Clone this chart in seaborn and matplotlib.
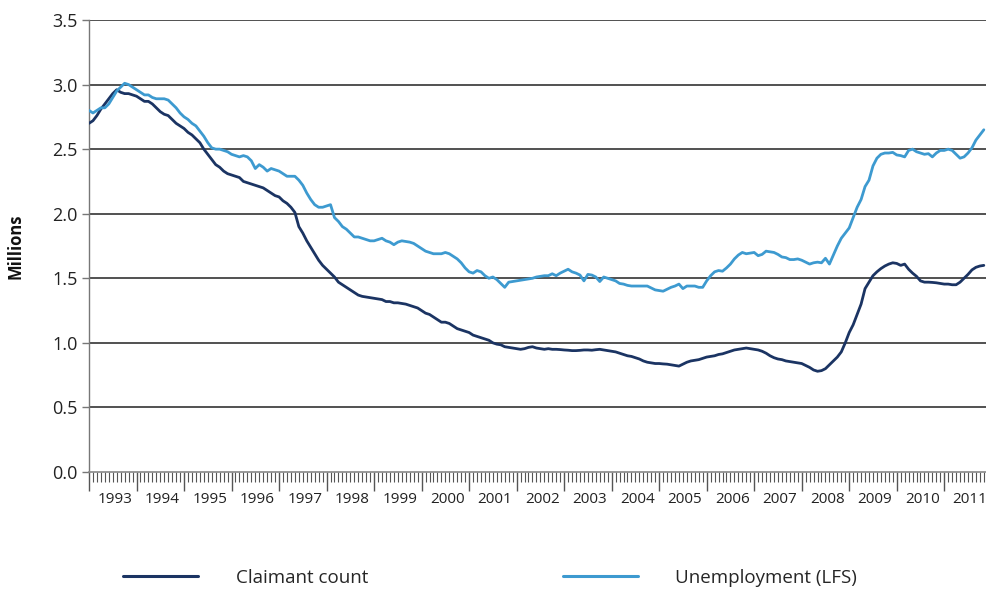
import numpy as np
import pandas as pd
import seaborn as sns
from matplotlib import pyplot as plt
from matplotlib.ticker import MultipleLocator, FixedLocator
from matplotlib.lines import Line2D

# monthly values, Jan 1993 - Nov 2011, millions
claimant = [
    2.70, 2.72, 2.76, 2.81, 2.85, 2.89, 2.93, 2.96, 2.94, 2.93, 2.93, 2.92,
    2.91, 2.89, 2.87, 2.87, 2.85, 2.82, 2.79, 2.77, 2.76, 2.73, 2.70, 2.68,
    2.66, 2.63, 2.61, 2.58, 2.55, 2.50, 2.46, 2.42, 2.38, 2.36, 2.33, 2.31,
    2.30, 2.29, 2.28, 2.25, 2.24, 2.23, 2.22, 2.21, 2.20, 2.18, 2.16, 2.14,
    2.13, 2.10, 2.08, 2.05, 2.01, 1.90, 1.85, 1.79, 1.74, 1.69, 1.64, 1.60,
    1.57, 1.54, 1.51, 1.47, 1.45, 1.43, 1.41, 1.39, 1.37, 1.36, 1.355, 1.35,
    1.345, 1.34, 1.335, 1.32, 1.32, 1.31, 1.31, 1.305, 1.30, 1.29, 1.28, 1.27,
    1.25, 1.23, 1.22, 1.20, 1.18, 1.16, 1.16, 1.15, 1.13, 1.11, 1.10, 1.09,
    1.08, 1.06, 1.05, 1.04, 1.03, 1.02, 1.00, 0.99, 0.985, 0.97, 0.965, 0.96,
    0.955, 0.95, 0.955, 0.965, 0.97, 0.96, 0.955, 0.95, 0.955, 0.95, 0.95, 0.948,
    0.945, 0.943, 0.94, 0.94, 0.942, 0.945, 0.945, 0.943, 0.947, 0.95, 0.945, 0.94,
    0.935, 0.93, 0.92, 0.91, 0.90, 0.895, 0.885, 0.875, 0.86, 0.85, 0.845, 0.84,
    0.84, 0.837, 0.835, 0.83, 0.825, 0.82, 0.835, 0.85, 0.86, 0.865, 0.87, 0.88,
    0.89, 0.895, 0.90, 0.91, 0.915, 0.925, 0.935, 0.945, 0.95, 0.955, 0.96, 0.955,
    0.95, 0.945, 0.935, 0.92, 0.90, 0.885, 0.875, 0.87, 0.86, 0.855, 0.85, 0.845,
    0.84, 0.825, 0.81, 0.79, 0.78, 0.785, 0.80, 0.83, 0.86, 0.89, 0.93, 1.00,
    1.08, 1.14, 1.22, 1.30, 1.42, 1.47, 1.52, 1.55, 1.575, 1.595, 1.61, 1.62,
    1.615, 1.60, 1.61, 1.57, 1.54, 1.515, 1.48, 1.47, 1.47, 1.468, 1.465, 1.46,
    1.455, 1.455, 1.45, 1.45, 1.47, 1.50, 1.53, 1.565, 1.585, 1.595, 1.60,
]

lfs = [
    2.80, 2.78, 2.80, 2.82, 2.82, 2.85, 2.90, 2.95, 2.98, 3.01, 3.00, 2.98,
    2.96, 2.94, 2.92, 2.92, 2.90, 2.89, 2.89, 2.89, 2.88, 2.85, 2.82, 2.78,
    2.75, 2.73, 2.70, 2.68, 2.64, 2.60, 2.55, 2.51, 2.50, 2.50, 2.49, 2.48,
    2.46, 2.45, 2.44, 2.45, 2.44, 2.41, 2.35, 2.38, 2.36, 2.33, 2.35, 2.34,
    2.33, 2.31, 2.29, 2.29, 2.29, 2.26, 2.22, 2.16, 2.11, 2.07, 2.05, 2.05,
    2.06, 2.07, 1.97, 1.94, 1.90, 1.88, 1.85, 1.82, 1.82, 1.81, 1.80, 1.79,
    1.79, 1.80, 1.81, 1.79, 1.78, 1.76, 1.78, 1.79, 1.785, 1.78, 1.77, 1.75,
    1.73, 1.71, 1.70, 1.69, 1.69, 1.69, 1.70, 1.69, 1.67, 1.65, 1.62, 1.58,
    1.55, 1.54, 1.56, 1.55, 1.52, 1.50, 1.51, 1.49, 1.46, 1.43, 1.47, 1.475,
    1.48, 1.485, 1.49, 1.495, 1.50, 1.51, 1.515, 1.52, 1.52, 1.535, 1.52, 1.54,
    1.555, 1.57, 1.55, 1.54, 1.525, 1.48, 1.53, 1.525, 1.51, 1.475, 1.51, 1.50,
    1.49, 1.48, 1.46, 1.455, 1.445, 1.44, 1.44, 1.44, 1.44, 1.44, 1.425, 1.41,
    1.405, 1.40, 1.415, 1.43, 1.44, 1.455, 1.42, 1.44, 1.44, 1.44, 1.43, 1.43,
    1.48, 1.52, 1.55, 1.56, 1.555, 1.58, 1.61, 1.65, 1.68, 1.70, 1.69, 1.695,
    1.70, 1.675, 1.685, 1.71, 1.705, 1.70, 1.685, 1.665, 1.66, 1.645, 1.645, 1.65,
    1.64, 1.625, 1.61, 1.62, 1.625, 1.62, 1.655, 1.61, 1.68, 1.75, 1.81, 1.85,
    1.89, 1.97, 2.05, 2.11, 2.21, 2.26, 2.37, 2.43, 2.46, 2.47, 2.47, 2.475,
    2.455, 2.45, 2.44, 2.49, 2.50, 2.48, 2.47, 2.46, 2.465, 2.44, 2.47, 2.49,
    2.49, 2.50, 2.49, 2.46, 2.43, 2.44, 2.47, 2.51, 2.57, 2.61, 2.65,
]

years = list(range(1993, 2012))
series_names = ["Claimant count", "Unemployment (LFS)"]
colors = ["#1b3463", "#3d9ad0"]

months = np.arange(len(claimant))
df = pd.DataFrame({
    "month": np.concatenate([months, months]),
    "value": claimant + lfs,
    "series": [series_names[0]] * len(claimant) + [series_names[1]] * len(lfs),
})

sns.set_style("white")
plt.rcParams["font.family"] = ["Open Sans", "DejaVu Sans"]

fig = plt.figure(figsize=(9.87, 5.92), dpi=100)
ax = fig.add_axes([89 / 987, 1 - 472 / 592, 898 / 987, 452 / 592])

for y in np.arange(0.5, 3.51, 0.5):
    ax.axhline(y, color="#333333", lw=1.2, zorder=1)

sns.lineplot(data=df, x="month", y="value", hue="series", palette=colors,
             linewidth=2.0, ax=ax, legend=False, zorder=3)

ax.set_xlim(0, len(claimant) - 0.2)
ax.set_ylim(0, 3.5)
ax.yaxis.set_major_locator(MultipleLocator(0.5))
ax.set_yticklabels([f"{v:.1f}" for v in ax.get_yticks()])
ax.tick_params(axis="y", length=5, width=1, color="#777777", labelsize=13,
               labelcolor="#222222", pad=3, left=True)

ax.xaxis.set_major_locator(FixedLocator(np.arange(0, len(claimant), 12)))
ax.xaxis.set_minor_locator(MultipleLocator(1))
ax.set_xticklabels([])
ax.tick_params(axis="x", which="major", length=14, width=1, color="#555555", bottom=True)
ax.tick_params(axis="x", which="minor", length=7, width=0.8, color="#555555", bottom=True)

trans = ax.get_xaxis_transform()
for i, yr in enumerate(years):
    ax.text(12 * i + 6.5, -0.045, str(yr), transform=trans, ha="center", va="top",
            fontsize=11, color="#222222")

for side in ["top", "right"]:
    ax.spines[side].set_visible(False)
ax.spines["left"].set_color("#777777")
ax.spines["bottom"].set_color("#888888")
ax.spines["left"].set_linewidth(1)
ax.spines["bottom"].set_linewidth(1.2)

ax.set_xlabel("")
ax.set_ylabel("Millions", fontsize=12, fontweight="bold", color="#111111", labelpad=20)

handles = [Line2D([], [], color=c, lw=2.2) for c in colors]
fig.legend(handles, series_names, loc="center left", ncol=2,
           bbox_to_anchor=(123 / 987, 1 - 578 / 592), frameon=False,
           fontsize=13.5, handlelength=4.0, handletextpad=2.0, columnspacing=10.4,
           borderpad=0, borderaxespad=0)

fig.savefig("out.png", dpi=100)
